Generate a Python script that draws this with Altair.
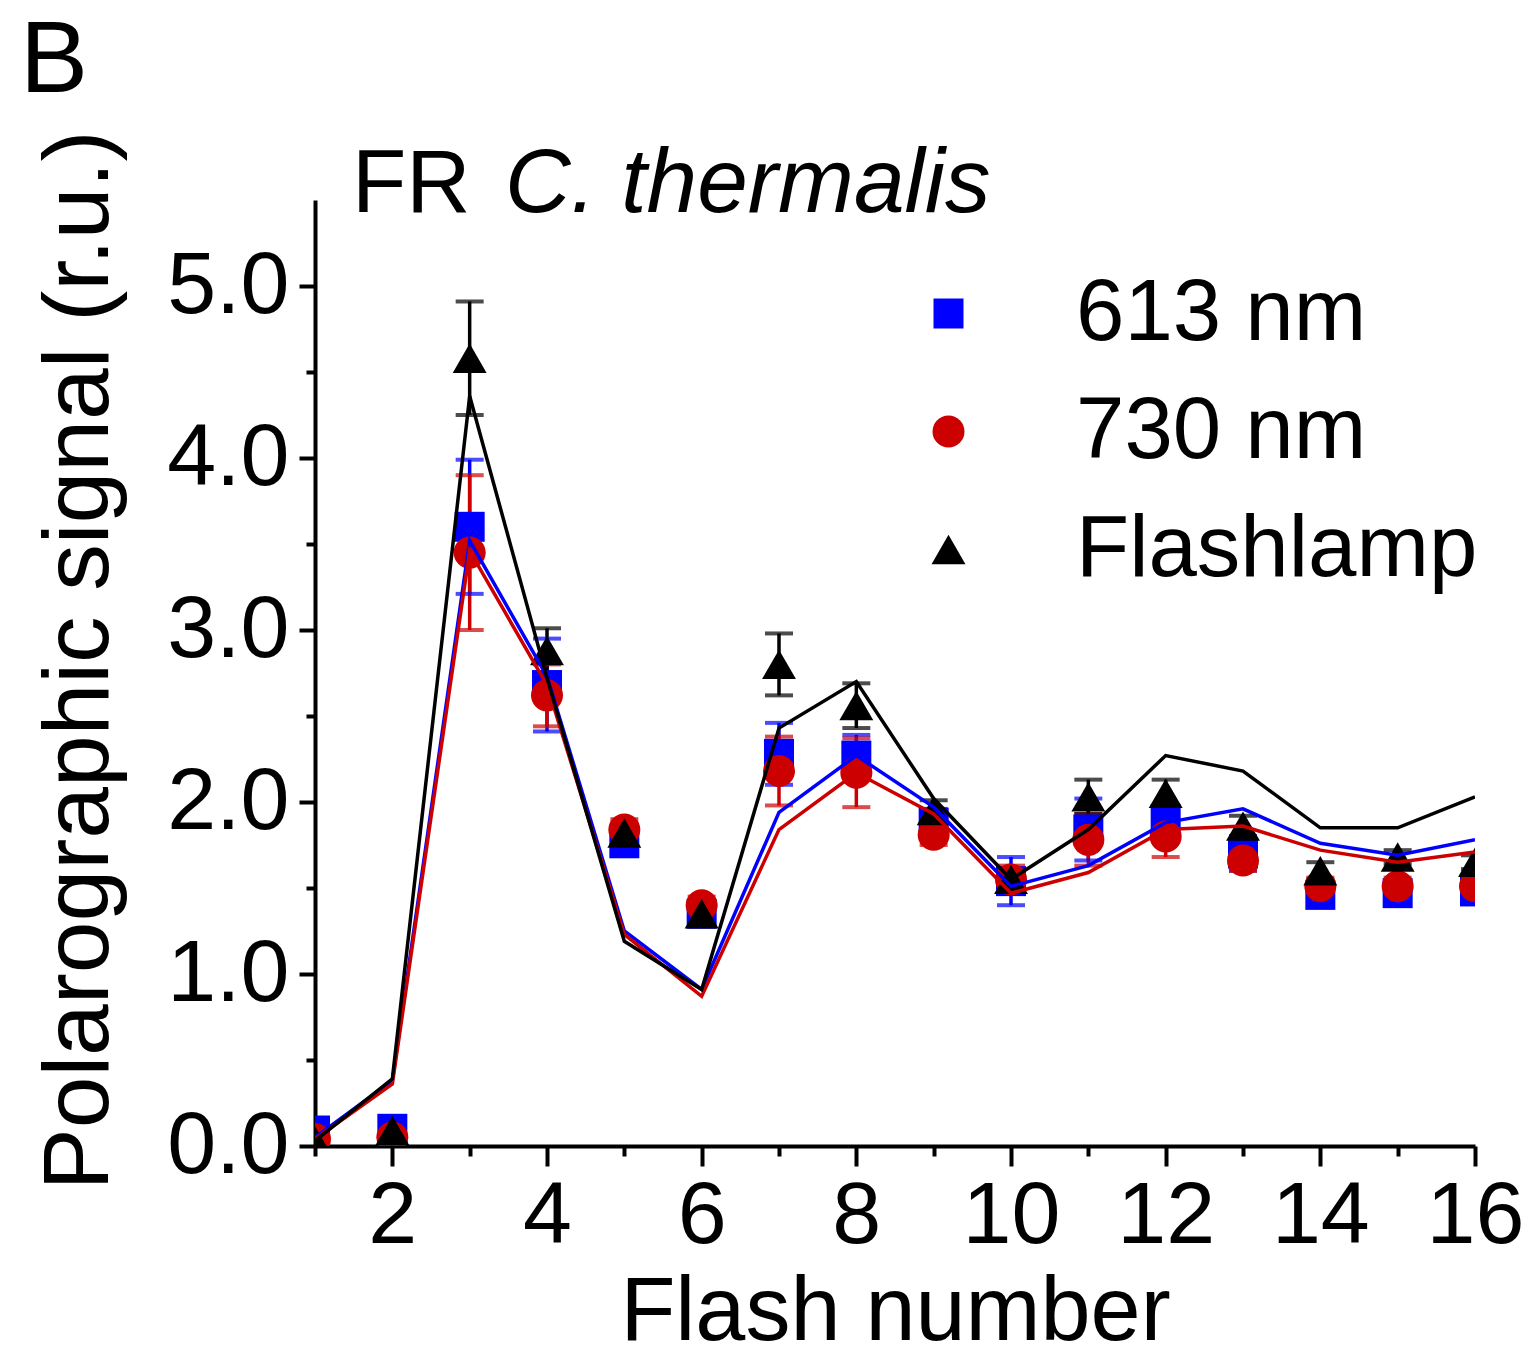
import altair as alt
import pandas as pd

FONT = "Liberation Sans, Arial, sans-serif"

flash = list(range(1, 17))
series_names = ["613 nm", "730 nm", "Flashlamp"]
series_colors = ["#0000FF", "#CC0000", "#000000"]
series_shapes = ["square", "circle", "triangle-up"]
series_sizes = [900, 1150, 1700]

# measured flash-induced O2 yields and their standard deviations
y613 = [0.09, 0.10, 3.60, 2.68, 1.76, 1.35, 2.28, 2.27, 1.88, 1.54, 1.84, 1.90, 1.70, 1.46, 1.47, 1.48]
e613 = [0.03, 0.04, 0.39, 0.27, 0.06, 0.05, 0.18, 0.12, 0.08, 0.14, 0.18, 0.08, 0.10, 0.06, 0.06, 0.06]
y730 = [0.04, 0.05, 3.45, 2.62, 1.84, 1.40, 2.18, 2.17, 1.81, 1.55, 1.78, 1.80, 1.66, 1.51, 1.51, 1.51]
e730 = [0.03, 0.03, 0.45, 0.18, 0.06, 0.05, 0.20, 0.20, 0.06, 0.08, 0.15, 0.12, 0.06, 0.05, 0.05, 0.05]
yfl = [0.03, 0.09, 4.58, 2.88, 1.82, 1.35, 2.80, 2.56, 1.95, 1.55, 2.03, 2.05, 1.86, 1.60, 1.68, 1.65]
efl = [0.02, 0.03, 0.33, 0.13, 0.05, 0.05, 0.18, 0.13, 0.06, 0.05, 0.10, 0.08, 0.06, 0.05, 0.04, 0.04]

# model fits drawn as lines
f613 = [0.05, 0.38, 3.52, 2.73, 1.25, 0.91, 1.94, 2.27, 1.97, 1.51, 1.63, 1.88, 1.96, 1.76, 1.69, 1.78]
f730 = [0.04, 0.36, 3.46, 2.68, 1.23, 0.87, 1.84, 2.17, 1.93, 1.47, 1.59, 1.84, 1.86, 1.72, 1.65, 1.71]
ffl = [0.03, 0.39, 4.36, 2.72, 1.19, 0.91, 2.43, 2.70, 2.02, 1.55, 1.84, 2.27, 2.18, 1.85, 1.85, 2.03]

title_plain = "FR"
title_italic = "C. thermalis"
panel_letter = "B"

rows, fits, caps = [], [], []
for name, ys, es, fs in zip(series_names, [y613, y730, yfl], [e613, e730, efl], [f613, f730, ffl]):
    for x, y, e, f in zip(flash, ys, es, fs):
        rows.append({"flash": x, "value": y, "lo": y - e, "hi": y + e, "series": name})
        fits.append({"flash": x, "fit": f, "series": name})
        caps.append({"flash": x, "cap": y - e, "series": name})
        caps.append({"flash": x, "cap": y + e, "series": name})
points = pd.DataFrame(rows)
lines = pd.DataFrame(fits)
caps = pd.DataFrame(caps)

x_scale = alt.Scale(domain=[1, 16], nice=False, zero=False)
y_scale = alt.Scale(domain=[0, 5.5], nice=False)
color_scale = alt.Scale(domain=series_names, range=series_colors)
shape_scale = alt.Scale(domain=series_names, range=series_shapes)
size_scale = alt.Scale(domain=series_names, range=series_sizes)

x_axis = alt.Axis(
    values=flash,
    labelExpr="datum.value % 2 === 0 ? format(datum.value, 'd') : ''",
    labelOverlap=False,
    labelFlush=False,
    tickSize={"condition": {"test": "datum.value % 2 === 0", "value": 20}, "value": 10},
    labelFontSize=88,
    labelPadding=6,
    title="Flash number",
    titleFontSize=90,
    titleFontWeight="normal",
    titleBaseline="alphabetic",
    titleX=580,
    titleY=193,
    titleAlign="center",
)
y_axis = alt.Axis(
    values=[i * 0.5 for i in range(11)],
    labelExpr="datum.value % 1 === 0 ? format(datum.value, '.1f') : ''",
    labelOverlap=False,
    labelFlush=False,
    tickSize={"condition": {"test": "datum.value % 1 === 0", "value": 16}, "value": 9},
    labelFontSize=88,
    labelPadding=10,
    title="Polarographic signal (r.u.)",
    titleFontSize=93,
    titleFontWeight="normal",
    titleAngle=270,
    titleBaseline="alphabetic",
    titleAlign="center",
    titleX=-208,
    titleY=460,
)

legend = alt.Legend(
    title=None,
    orient="none",
    legendX=590,
    legendY=70,
    labelFontSize=87,
    labelFont=FONT,
    labelOffset=84,
    labelLimit=0,
    rowPadding=30,
    symbolStrokeWidth=0,
    symbolOpacity=1,
)

color_enc = alt.Color("series:N", scale=color_scale, legend=legend)

err = alt.Chart(points).mark_rule(strokeWidth=3.5, clip=True).encode(
    x=alt.X("flash:Q", scale=x_scale, axis=x_axis),
    y=alt.Y("lo:Q", scale=y_scale, axis=y_axis),
    y2="hi:Q",
    color=color_enc,
)

cap = alt.Chart(caps).mark_tick(orient="horizontal", size=28, thickness=4, clip=True).encode(
    x=alt.X("flash:Q", scale=x_scale),
    y=alt.Y("cap:Q", scale=y_scale),
    color=color_enc,
)

marks = alt.Chart(points).mark_point(filled=True, opacity=1, clip=True).encode(
    x=alt.X("flash:Q", scale=x_scale),
    y=alt.Y("value:Q", scale=y_scale),
    color=color_enc,
    shape=alt.Shape("series:N", scale=shape_scale, legend=legend),
    size=alt.Size("series:N", scale=size_scale, legend=legend),
)

fit_lines = alt.Chart(lines).mark_line(strokeWidth=3.5, clip=True).encode(
    x=alt.X("flash:Q", scale=x_scale),
    y=alt.Y("fit:Q", scale=y_scale),
    color=color_enc,
    detail="series:N",
)

plain_title = alt.Chart(pd.DataFrame({"t": [title_plain]})).mark_text(
    font=FONT, fontSize=89, align="left", baseline="alphabetic", color="black"
).encode(text="t:N", x=alt.value(37), y=alt.value(12))

italic_title = alt.Chart(pd.DataFrame({"t": [title_italic]})).mark_text(
    font=FONT, fontSize=91, fontStyle="italic", align="left", baseline="alphabetic", color="black"
).encode(text="t:N", x=alt.value(190), y=alt.value(12))

letter = alt.Chart(pd.DataFrame({"t": [panel_letter]})).mark_text(
    font=FONT, fontSize=102, align="left", baseline="alphabetic", color="black"
).encode(text="t:N", x=alt.value(-295), y=alt.value(-108))

chart = alt.layer(err, cap, marks, fit_lines, plain_title, italic_title, letter).properties(
    width=1160,
    height=946,
    autosize=alt.AutoSizeParams(type="none"),
    padding={"left": 315, "top": 200, "right": 56, "bottom": 213},
).configure(
    font=FONT,
    background="white",
).configure_view(
    stroke=None,
).configure_axis(
    grid=False,
    domainColor="black",
    domainWidth=4,
    tickColor="black",
    tickWidth=4,
    labelColor="black",
    titleColor="black",
    labelFont=FONT,
    titleFont=FONT,
)

chart.save("out.html", embed_options={"renderer": "svg", "actions": False})
